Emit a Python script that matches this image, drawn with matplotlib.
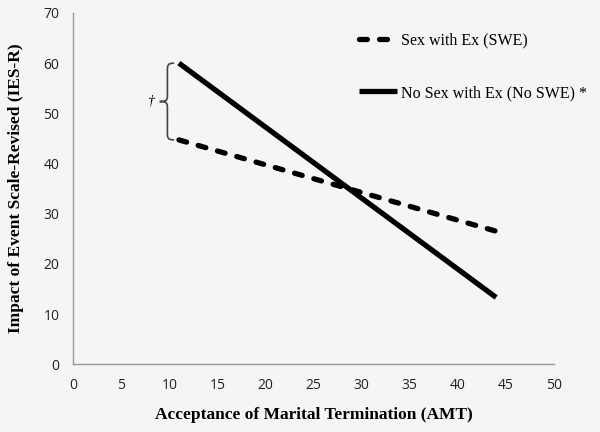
import matplotlib
matplotlib.use("Agg")
import matplotlib.pyplot as plt
from matplotlib.path import Path
from matplotlib.patches import PathPatch

# Data
amt_range = [11, 44]
swe_values = [44.7, 26.5]       # Sex with Ex (SWE)
noswe_values = [60.0, 13.3]     # No Sex with Ex (No SWE)
labels = ["Sex with Ex (SWE)", "No Sex with Ex (No SWE) *"]
x_ticks = [0, 5, 10, 15, 20, 25, 30, 35, 40, 45, 50]
y_ticks = [0, 10, 20, 30, 40, 50, 60, 70]
brace_x = 9.8
brace_y = [44.7, 60.0]

bg = "#f5f5f5"
fig = plt.figure(figsize=(6.0, 4.32), dpi=100, facecolor=bg)
ax = fig.add_axes([0.122, 0.157, 0.801, 0.813], facecolor=bg)

ax.plot(amt_range, swe_values, color="black", lw=3.8, linestyle=(0, (1.5, 2.3)),
        dash_capstyle="round", label=labels[0])
ax.plot(amt_range, noswe_values, color="black", lw=3.8, solid_capstyle="butt",
        label=labels[1])

ax.set_xlim(0, 50)
ax.set_ylim(0, 70)
ax.set_xticks(x_ticks)
ax.set_yticks(y_ticks)
ax.tick_params(length=0, labelsize=10, colors="#222222", pad=10)
for lab in ax.get_xticklabels() + ax.get_yticklabels():
    lab.set_family("Open Sans")
for s in ["top", "right"]:
    ax.spines[s].set_visible(False)
for s in ["left", "bottom"]:
    ax.spines[s].set_color("#999999")
    ax.spines[s].set_linewidth(1.0)

ax.set_xlabel("Acceptance of Marital Termination (AMT)", family="Liberation Serif",
              fontweight="bold", fontsize=12.5, labelpad=10)
ax.set_ylabel("Impact of Event Scale-Revised (IES-R)", family="Liberation Serif",
              fontweight="bold", fontsize=12.5, labelpad=14)

# Curly brace
y0, y1 = brace_y
ym = (y0 + y1) / 2
w = 0.7
verts = [
    (brace_x + w, y1),
    (brace_x, y1), (brace_x, y1 - 0.5), (brace_x, y1 - 1.5),
    (brace_x, ym + 1.0),
    (brace_x, ym), (brace_x - 0.4, ym), (brace_x - 0.8, ym),
    (brace_x - 0.4, ym), (brace_x, ym), (brace_x, ym - 1.0),
    (brace_x, y0 + 1.5),
    (brace_x, y0 + 0.5), (brace_x, y0), (brace_x + w, y0),
]
codes = [Path.MOVETO,
         Path.CURVE4, Path.CURVE4, Path.CURVE4,
         Path.LINETO,
         Path.CURVE4, Path.CURVE4, Path.CURVE4,
         Path.CURVE4, Path.CURVE4, Path.CURVE4,
         Path.LINETO,
         Path.CURVE4, Path.CURVE4, Path.CURVE4]
ax.add_patch(PathPatch(Path(verts, codes), fill=False, edgecolor="#444444", lw=1.2))
ax.text(brace_x - 1.7, ym, "†", ha="center", va="center", fontsize=10,
        family="Liberation Serif", style="italic")

leg = ax.legend(loc="upper left", bbox_to_anchor=(0.595, 0.945), frameon=False,
                prop={"family": "Liberation Serif", "size": 11.5},
                handlelength=2.4, handletextpad=0.2, labelspacing=2.3, borderpad=0,
                borderaxespad=0)

fig.savefig("out.png", dpi=100, facecolor=bg)
